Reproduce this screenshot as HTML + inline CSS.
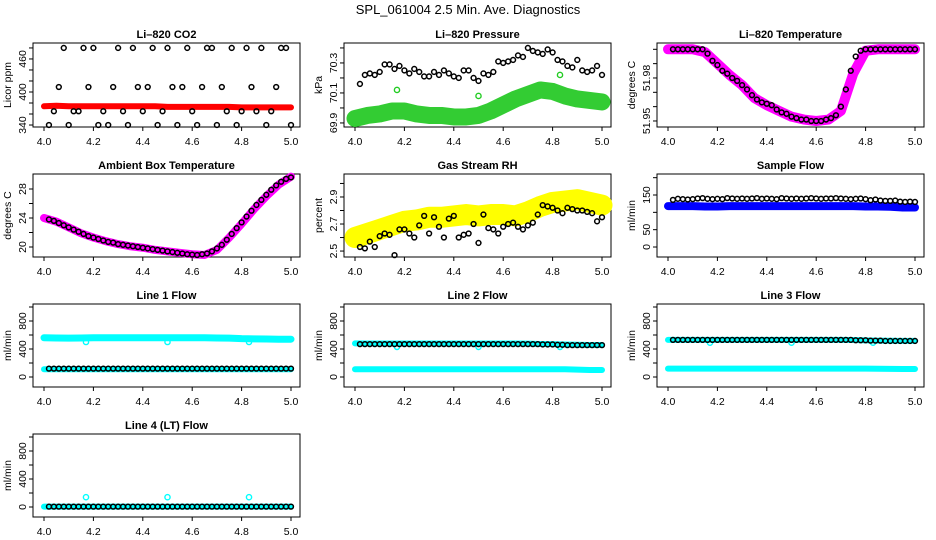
<!DOCTYPE html>
<html><head><meta charset="utf-8"><style>
html,body{margin:0;padding:0;background:#fff;}
svg{display:block;font-family:"Liberation Sans",sans-serif;}
</style></head><body>
<svg id="chart" width="936" height="540" viewBox="0 0 936 540"></svg>
<script>
// ---------- data ----------
const tBlack = [4.02,4.04,4.06,4.08,4.10,4.12,4.14,4.16,4.18,4.20,4.22,4.24,4.26,4.28,4.30,4.32,4.34,4.36,4.38,4.40,4.42,4.44,4.46,4.48,4.50,4.52,4.54,4.56,4.58,4.60,4.62,4.64,4.66,4.68,4.70,4.72,4.74,4.76,4.78,4.80,4.82,4.84,4.86,4.88,4.90,4.92,4.94,4.96,4.98,5.00];
const tBand = [4.00,4.05,4.10,4.15,4.20,4.25,4.30,4.35,4.40,4.45,4.50,4.55,4.60,4.65,4.70,4.75,4.80,4.85,4.90,4.95,5.00];
const tOut = [4.17,4.50,4.83];

const co2Black = [340,365,409,480,340,365,365,480,409,480,340,365,340,409,480,365,340,480,409,365,409,480,340,365,480,409,340,409,480,365,340,409,480,480,340,409,365,480,340,365,480,409,365,480,340,365,409,480,480,340];
const co2Red = [374,375,374,374,374,374,374,374,374,374,373,373,373,373,373,373,372,372,372,372,372];

const presBlack = [70.16,70.22,70.23,70.22,70.24,70.29,70.29,70.26,70.28,70.25,70.23,70.26,70.24,70.21,70.21,70.24,70.22,70.25,70.23,70.21,70.20,70.25,70.25,70.20,70.18,70.23,70.22,70.24,70.31,70.30,70.31,70.32,70.35,70.34,70.40,70.38,70.37,70.36,70.39,70.37,70.32,70.31,70.28,70.27,70.32,70.25,70.24,70.25,70.28,70.22];
const presGreen = [69.93,69.95,69.96,69.98,69.98,69.96,69.95,69.95,69.94,69.94,69.95,69.98,70.02,70.06,70.09,70.12,70.11,70.08,70.06,70.05,70.04];
const presOut = [70.12,70.08,70.22];

const liTBlack = [52.0,52.0,52.0,52.0,52.0,52.0,52.0,51.997,51.992,51.989,51.985,51.983,51.98,51.978,51.975,51.972,51.968,51.965,51.963,51.962,51.961,51.958,51.956,51.955,51.953,51.952,51.951,51.951,51.95,51.95,51.95,51.951,51.952,51.954,51.96,51.972,51.985,51.995,51.999,52.0,52.0,52.0,52.0,52.0,52.0,52.0,52.0,52.0,52.0,52.0];
const liTMag = [52.0,52.0,52.0,51.998,51.99,51.982,51.975,51.966,51.961,51.957,51.953,51.951,51.95,51.951,51.957,51.983,51.999,52.0,52.0,52.0,52.0];

const ambBlack = [23.8,23.6,23.3,23.0,22.7,22.4,22.1,21.8,21.5,21.3,21.1,20.9,20.7,20.6,20.4,20.3,20.2,20.1,20.0,19.9,19.8,19.7,19.6,19.5,19.4,19.3,19.2,19.1,19.0,18.95,18.9,19.0,19.1,19.4,19.8,20.3,21.0,21.8,22.6,23.4,24.2,25.0,25.8,26.5,27.2,27.9,28.5,29.0,29.4,29.6];
const ambMag = [24.0,23.5,22.7,21.9,21.3,20.8,20.4,20.1,19.9,19.6,19.4,19.2,19.0,18.9,19.6,21.3,23.2,25.2,27.0,28.6,29.7];

const rhBlack = [2.53,2.52,2.57,2.53,2.61,2.63,2.62,2.47,2.66,2.66,2.63,2.60,2.69,2.76,2.63,2.75,2.68,2.60,2.74,2.76,2.60,2.62,2.63,2.70,2.56,2.77,2.67,2.66,2.63,2.68,2.70,2.71,2.68,2.66,2.69,2.71,2.77,2.84,2.83,2.82,2.80,2.78,2.82,2.81,2.80,2.80,2.79,2.78,2.72,2.75];
const rhYellow = [2.60,2.63,2.66,2.69,2.72,2.73,2.75,2.75,2.76,2.77,2.76,2.77,2.77,2.76,2.79,2.83,2.86,2.87,2.88,2.86,2.84];

const sfBlack = [136,139,138,137,138,140,141,139,138,139,138,141,140,139,140,139,140,141,139,140,139,138,141,140,139,140,139,140,141,140,139,140,140,141,140,139,138,139,140,138,135,137,134,133,133,134,131,130,131,130];
const sfBlue = [118,118,118,117,117,118,118,118,118,118,118,118,118,118,118,118,117,117,116,114,114];

const l1Black = [120,120,120,120,120,120,120,120,120,120,120,120,120,120,120,120,120,120,120,120,120,120,120,120,120,120,120,120,120,120,120,120,120,120,120,120,120,120,120,120,120,120,120,120,120,120,120,120,120,120];
const l1CyanHi = [560,558,556,558,560,560,560,560,560,560,560,560,560,560,558,556,548,545,542,540,540];
const l1CyanLo = [110,110,110,110,110,110,110,110,110,110,110,110,110,110,110,110,110,110,110,110,110];
const l1Out = [500,500,500];

const l2Black = [470,470,470,470,470,470,470,470,470,470,470,470,470,470,470,470,470,470,470,470,470,470,470,470,470,470,470,470,470,470,470,470,470,470,470,470,470,465,465,465,460,460,455,455,455,455,455,455,455,455];
const l2CyanHi = [480,478,478,478,478,478,478,478,478,478,478,478,478,478,476,472,470,465,460,458,458];
const l2CyanLo = [110,110,110,110,110,110,110,110,110,110,110,110,110,110,110,110,110,110,105,100,100];
const l2Out = [430,430,430];

const l3Black = [530,530,530,530,530,530,530,530,530,530,530,530,530,530,530,530,530,530,530,530,530,530,530,530,530,530,530,530,530,530,530,530,530,530,530,530,530,525,525,525,520,520,520,515,515,515,515,515,515,515];
const l3CyanHi = [530,530,530,530,530,530,530,530,530,530,530,530,530,530,530,528,524,520,518,516,516];
const l3CyanLo = [120,120,120,120,120,120,120,120,120,120,120,120,120,120,120,120,120,118,116,115,115];
const l3Out = [490,490,490];

const l4Black = [5,5,5,5,5,5,5,5,5,5,5,5,5,5,5,5,5,5,5,5,5,5,5,5,5,5,5,5,5,5,5,5,5,5,5,5,5,5,5,5,5,5,5,5,5,5,5,5,5,5];
const l4Cyan = [5,5,5,5,5,5,5,5,5,5,5,5,5,5,5,5,5,5,5,5,5];
const l4Out = [140,140,140];

const xTicks = [4.0,4.2,4.4,4.6,4.8,5.0];
const xTickLabels = ["4.0","4.2","4.4","4.6","4.8","5.0"];

// ---------- drawing ----------
const NS = "http://www.w3.org/2000/svg";
const svg = document.getElementById('chart');
function mk(tag, parent){ const e=document.createElementNS(NS,tag); parent.appendChild(e); return e; }

const t0 = mk('text', svg);


t0.setAttribute('x',468); t0.setAttribute('y',14); t0.setAttribute('text-anchor','middle'); t0.setAttribute('font-size','13');
t0.textContent = 'SPL_061004  2.5 Min. Ave. Diagnostics';

function panel(p){
  const g = mk('g', svg);
  
  
  const L=p.left, T=p.top, W=267, H=p.h||84;
  const sx = v => L + 11 + (v-4.0)*247;
  const sy = v => T + (p.ymax - v)/(p.ymax - p.ymin)*H;
  const tt = mk('text', g);
  
  
  tt.setAttribute('x', L+W/2); tt.setAttribute('y', T-5); tt.setAttribute('text-anchor','middle');
  tt.setAttribute('font-size','11'); tt.setAttribute('font-weight','bold');
  tt.textContent = p.title;
  const bx = mk('rect', g);
  
  
  bx.setAttribute('x',L); bx.setAttribute('y',T); bx.setAttribute('width',W); bx.setAttribute('height',H);
  bx.setAttribute('fill','none'); bx.setAttribute('stroke','#000'); bx.setAttribute('stroke-width','1');
  xTicks.forEach((v,i)=>{
    const ln = mk('line', g);
    
    
    ln.setAttribute('x1',sx(v)); ln.setAttribute('x2',sx(v)); ln.setAttribute('y1',T+H); ln.setAttribute('y2',T+H+4);
    ln.setAttribute('stroke','#000');
    const tx = mk('text', g);
    
    
    tx.setAttribute('x',sx(v)); tx.setAttribute('y',T+H+18); tx.setAttribute('text-anchor','middle'); tx.setAttribute('font-size','10.5');
    tx.textContent = xTickLabels[i];
  });
  p.yTicks.forEach(v=>{
    const ln = mk('line', g);
    
    
    ln.setAttribute('x1',L-4); ln.setAttribute('x2',L); ln.setAttribute('y1',sy(v)); ln.setAttribute('y2',sy(v));
    ln.setAttribute('stroke','#000');
  });
  p.yLabels.forEach(s=>{
    const v = parseFloat(s);
    const tx = mk('text', g);
    
    
    tx.setAttribute('transform','translate('+(L-7)+','+sy(v)+') rotate(-90)');
    tx.setAttribute('text-anchor','middle'); tx.setAttribute('font-size','10.5');
    tx.textContent = s;
  });
  const yl = mk('text', g);
  
  
  yl.setAttribute('transform','translate('+(L-22)+','+(T+H/2)+') rotate(-90)');
  yl.setAttribute('text-anchor','middle'); yl.setAttribute('font-size','10.5');
  yl.textContent = p.ylab;
  (p.bands||[]).forEach(b=>{
    const pl = mk('polyline', g);
    
    
    pl.setAttribute('points', tBand.map((t,i)=>sx(t)+','+sy(b.vals[i])).join(' '));
    pl.setAttribute('fill','none'); pl.setAttribute('stroke',b.color); pl.setAttribute('stroke-width',b.w);
    pl.setAttribute('stroke-linejoin','round'); pl.setAttribute('stroke-linecap','round');
  });
  if(p.out){
    p.out.vals.forEach((v,i)=>{
      const c = mk('circle', g);
      
      
      c.setAttribute('cx',sx(tOut[i])); c.setAttribute('cy',sy(v)); c.setAttribute('r',2.6);
      c.setAttribute('fill','none'); c.setAttribute('stroke',p.out.color); c.setAttribute('stroke-width','1.4');
    });
  }
  p.black.forEach((v,i)=>{
    const c = mk('circle', g);
    
    
    c.setAttribute('cx',sx(tBlack[i])); c.setAttribute('cy',sy(v)); c.setAttribute('r',2.4);
    c.setAttribute('fill','none'); c.setAttribute('stroke','#000'); c.setAttribute('stroke-width','1.5');
  });
}

const cols=[33,344,657], rows=[43,174,304,434];
const flowTicks=[0,200,400,600,800,1000], flowLabels=["0","400","800"];

panel({name:'co2-panel',title:'Li\u2013820 CO2',left:cols[0],top:rows[0],ymin:336.4,ymax:489,ylab:'Licor ppm',
  yTicks:[340,360,380,400,420,440,460,480],yLabels:["340","400","460"],
  bands:[{name:'co2-red-band',vals:co2Red,color:'#ff0000',w:6}],black:co2Black});
panel({name:'pressure-panel',title:'Li\u2013820 Pressure',left:cols[1],top:rows[0],ymin:69.873,ymax:70.433,ylab:'kPa',
  yTicks:[69.9,70.0,70.1,70.2,70.3,70.4],yLabels:["69.9","70.1","70.3"],
  bands:[{name:'pressure-green-band',vals:presGreen,color:'#33cc33',w:17}],out:{vals:presOut,color:'#22cc22'},black:presBlack});
panel({name:'li-temp-panel',title:'Li\u2013820 Temperature',left:cols[2],top:rows[0],ymin:51.9458,ymax:52.0044,ylab:'degrees C',
  yTicks:[51.95,51.96,51.97,51.98,51.99,52.0],yLabels:["51.95","51.98"],
  bands:[{name:'li-temp-magenta-band',vals:liTMag,color:'#ff00ff',w:10}],black:liTBlack});
panel({name:'ambient-temp-panel',title:'Ambient Box Temperature',left:cols[0],top:rows[1],h:83,ymin:18.62,ymax:30.07,ylab:'degrees C',
  yTicks:[20,22,24,26,28],yLabels:["20","24","28"],
  bands:[{name:'ambient-magenta-band',vals:ambMag,color:'#ff00ff',w:8}],black:ambBlack});
panel({name:'rh-panel',title:'Gas Stream RH',left:cols[1],top:rows[1],h:83,ymin:2.456,ymax:3.07,ylab:'percent',
  yTicks:[2.5,2.6,2.7,2.8,2.9,3.0],yLabels:["2.5","2.7","2.9"],
  bands:[{name:'rh-yellow-band',vals:rhYellow,color:'#ffff00',w:21}],black:rhBlack});
panel({name:'sample-flow-panel',title:'Sample Flow',left:cols[2],top:rows[1],h:83,ymin:-28.8,ymax:210.6,ylab:'ml/min',
  yTicks:[0,50,100,150,200],yLabels:["0","50","150"],
  bands:[{name:'sample-flow-blue-band',vals:sfBlue,color:'#0000ff',w:8}],black:sfBlack});
panel({name:'line1-flow-panel',title:'Line 1 Flow',left:cols[0],top:rows[2],h:83,ymin:-143,ymax:1043,ylab:'ml/min',
  yTicks:flowTicks,yLabels:flowLabels,
  bands:[{name:'line1-cyan-high',vals:l1CyanHi,color:'#00ffff',w:7},{name:'line1-cyan-low',vals:l1CyanLo,color:'#00ffff',w:6}],
  out:{vals:l1Out,color:'#00ffff'},black:l1Black});
panel({name:'line2-flow-panel',title:'Line 2 Flow',left:cols[1],top:rows[2],h:83,ymin:-143,ymax:1043,ylab:'ml/min',
  yTicks:flowTicks,yLabels:flowLabels,
  bands:[{name:'line2-cyan-high',vals:l2CyanHi,color:'#00ffff',w:6},{name:'line2-cyan-low',vals:l2CyanLo,color:'#00ffff',w:6}],
  out:{vals:l2Out,color:'#00ffff'},black:l2Black});
panel({name:'line3-flow-panel',title:'Line 3 Flow',left:cols[2],top:rows[2],h:83,ymin:-143,ymax:1043,ylab:'ml/min',
  yTicks:flowTicks,yLabels:flowLabels,
  bands:[{name:'line3-cyan-high',vals:l3CyanHi,color:'#00ffff',w:6},{name:'line3-cyan-low',vals:l3CyanLo,color:'#00ffff',w:6}],
  out:{vals:l3Out,color:'#00ffff'},black:l3Black});
panel({name:'line4-flow-panel',title:'Line 4 (LT) Flow',left:cols[0],top:rows[3],h:83,ymin:-143,ymax:1043,ylab:'ml/min',
  yTicks:flowTicks,yLabels:flowLabels,
  bands:[{name:'line4-cyan-band',vals:l4Cyan,color:'#00ffff',w:6}],
  out:{vals:l4Out,color:'#00ffff'},black:l4Black});
</script>
</body></html>
